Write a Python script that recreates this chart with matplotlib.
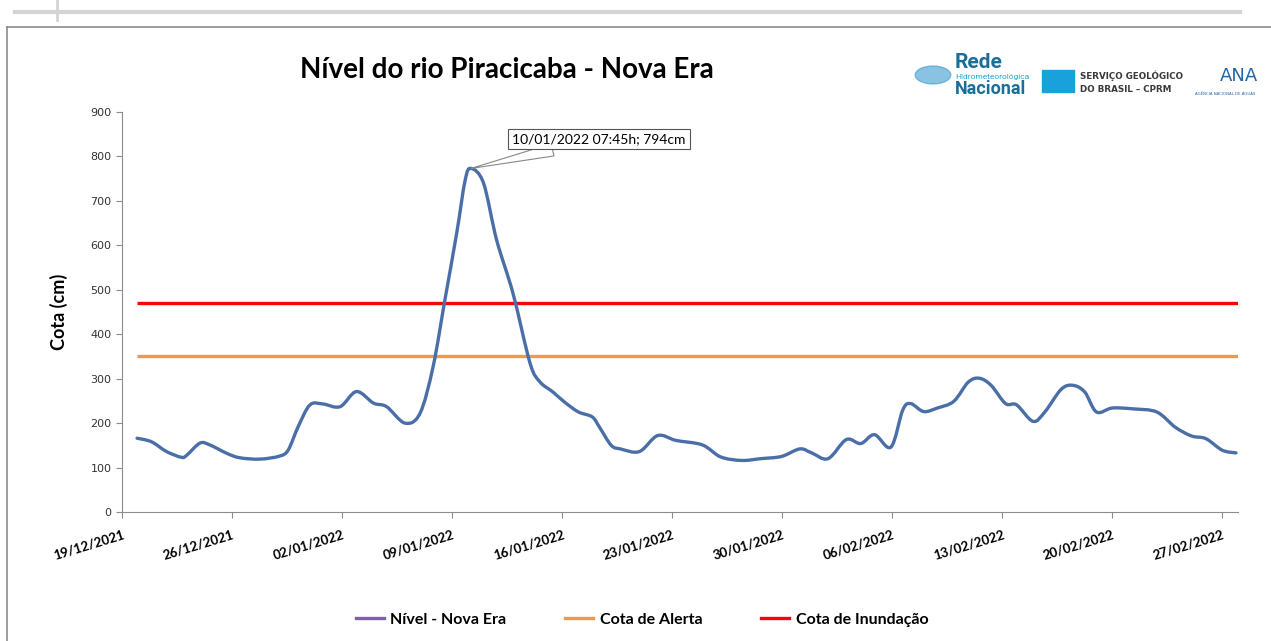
import numpy as np
import pandas as pd
import matplotlib
matplotlib.use("Agg")
import matplotlib.pyplot as plt
import matplotlib.dates as mdates
from matplotlib.lines import Line2D
from matplotlib.path import Path
from matplotlib.patches import PathPatch

# dados
datas = [
    "2021-12-19 23:00", "2021-12-20 21:00", "2021-12-21 20:00", "2021-12-22 19:00",
    "2021-12-23 03:00", "2021-12-23 23:00", "2021-12-24 14:00", "2021-12-25 16:00",
    "2021-12-26 12:00", "2021-12-27 19:00", "2021-12-29 01:00", "2021-12-29 14:00",
    "2021-12-30 05:00", "2021-12-30 23:00", "2021-12-31 19:00", "2022-01-01 21:00",
    "2022-01-02 22:00", "2022-01-04 00:00", "2022-01-04 20:00", "2022-01-06 00:00",
    "2022-01-06 23:00", "2022-01-07 19:00", "2022-01-08 13:00", "2022-01-09 07:00",
    "2022-01-09 20:00", "2022-01-10 05:00", "2022-01-11 00:00", "2022-01-11 20:00",
    "2022-01-12 21:00", "2022-01-13 23:00", "2022-01-14 14:00", "2022-01-15 10:00",
    "2022-01-16 04:00", "2022-01-17 01:00", "2022-01-17 22:00", "2022-01-18 09:00",
    "2022-01-19 03:00", "2022-01-19 17:00", "2022-01-20 22:00", "2022-01-22 02:00",
    "2022-01-23 06:00", "2022-01-24 22:00", "2022-01-26 02:00", "2022-01-27 10:00",
    "2022-01-28 15:00", "2022-01-29 23:00", "2022-01-31 03:00", "2022-01-31 21:00",
    "2022-02-01 22:00", "2022-02-03 02:00", "2022-02-04 00:00", "2022-02-04 21:00",
    "2022-02-05 22:00", "2022-02-06 16:00", "2022-02-07 04:00", "2022-02-08 00:00",
    "2022-02-08 21:00", "2022-02-09 22:00", "2022-02-10 20:00", "2022-02-11 13:00",
    "2022-02-12 07:00", "2022-02-13 05:00", "2022-02-13 22:00", "2022-02-14 23:00",
    "2022-02-15 17:00", "2022-02-16 18:00", "2022-02-17 12:00", "2022-02-18 06:00",
    "2022-02-19 00:00", "2022-02-20 00:00", "2022-02-21 08:00", "2022-02-22 20:00",
    "2022-02-24 00:00", "2022-02-25 01:00", "2022-02-25 23:00", "2022-02-27 00:00",
    "2022-02-27 21:00",
]
nivel = [
    166, 158, 136, 123, 128, 155, 151, 132,
    122, 119, 126, 140, 192, 241, 243, 237,
    271, 245, 237, 200, 222, 327, 477, 627,
    747, 773, 740, 612, 492, 335, 293, 270,
    247, 225, 214, 191, 150, 142, 136, 172,
    161, 151, 124, 116, 120, 125, 142, 133,
    120, 163, 154, 174, 146, 229, 244, 226,
    234, 249, 292, 301, 285, 244, 241, 204,
    225, 276, 285, 270, 225, 234, 232, 225,
    191, 171, 165, 139, 133,
]
cota_alerta = 350
cota_inundacao = 470
x_inicio = "2021-12-19"
x_fim = "2022-02-28"
texto_pico = "10/01/2022 07:45h; 794cm"

t = pd.to_datetime(datas)
nivel = np.array(nivel)

fig = plt.figure(figsize=(12.71, 6.41), dpi=100)
ax = fig.add_axes([122 / 1271, 1 - 512 / 641, (1238 - 122) / 1271, 400 / 641])

# moldura do print
fig.add_artist(Line2D([15 / 1271, 1240 / 1271], [1 - 12 / 641] * 2, color="#d4d4d4", lw=3))
fig.add_artist(Line2D([57 / 1271] * 2, [1, 1 - 20 / 641], color="#d4d4d4", lw=2))
fig.add_artist(Line2D([7 / 1271, 1], [1 - 27 / 641] * 2, color="#8c8c8c", lw=1.2))
fig.add_artist(Line2D([7 / 1271] * 2, [0, 1 - 27 / 641], color="#8c8c8c", lw=1.2))

# linha suavizada (curvas de Bezier pelos pontos, como no Excel)
xs = mdates.date2num(t)
ys = nivel.astype(float)
pts = np.column_stack([xs, ys])
ext = np.vstack([pts[0], pts, pts[-1]])
verts = [tuple(pts[0])]
codes = [Path.MOVETO]
for i in range(len(pts) - 1):
    p0, p1, p2, p3 = ext[i], ext[i + 1], ext[i + 2], ext[i + 3]
    c1 = p1 + (p2 - p0) / 6
    c2 = p2 - (p3 - p1) / 6
    verts += [tuple(c1), tuple(c2), tuple(p2)]
    codes += [Path.CURVE4] * 3
ax.add_patch(PathPatch(Path(verts, codes), fc="none", ec="#4a6ea8", lw=2.4,
                       capstyle="round", joinstyle="round", zorder=3))

ax.hlines(cota_alerta, t[0], pd.Timestamp(x_fim), color="#f79646", lw=2.4, zorder=2)
ax.hlines(cota_inundacao, t[0], pd.Timestamp(x_fim), color="#ff0000", lw=2.4, zorder=2)

ipico = np.argmax(nivel)
ax.annotate(texto_pico, xy=(t[ipico], nivel[ipico]), xytext=(92, 21),
            textcoords="offset points", ha="center", va="center",
            fontsize=10, family="Lato",
            bbox=dict(boxstyle="square,pad=0.3", fc="white", ec="#555555", lw=0.8),
            arrowprops=dict(arrowstyle="wedge,tail_width=0.9", fc="white",
                            ec="#888888", lw=0.8, shrinkA=0, shrinkB=0))

ax.set_xlim(pd.Timestamp(x_inicio), pd.Timestamp(x_fim))
ax.set_ylim(0, 900)
ax.set_yticks(range(0, 901, 100))
ax.set_xticks(pd.date_range(x_inicio, x_fim, freq="7D"))
ax.xaxis.set_major_formatter(mdates.DateFormatter("%d/%m/%Y"))
for lbl in ax.get_xticklabels():
    lbl.set_rotation(17)
    lbl.set_ha("right")
    lbl.set_rotation_mode("anchor")
    lbl.set_fontweight("bold")
    lbl.set_fontsize(9.5)
    lbl.set_family("Lato")
for lbl in ax.get_yticklabels():
    lbl.set_fontsize(8)
    lbl.set_color("#333333")

ax.spines["top"].set_visible(False)
ax.spines["right"].set_visible(False)
ax.spines["left"].set_color("#8c8c8c")
ax.spines["bottom"].set_color("#8c8c8c")
ax.tick_params(axis="both", color="#8c8c8c", length=4)
ax.tick_params(axis="x", pad=8)
ax.set_ylabel("Cota (cm)", fontsize=13, fontweight="bold", family="Lato", labelpad=16)

fig.text(507 / 1271, 1 - 70 / 641, "Nível do rio Piracicaba - Nova Era",
         ha="center", va="center", fontsize=20, fontweight="bold", family="Lato")

# logos (aproximados com texto)
fig.text(955 / 1271, 1 - 62 / 641, "Rede", color="#1a6f99", fontsize=15,
         fontweight="bold", family="Roboto", va="center")
fig.text(955 / 1271, 1 - 77 / 641, "Hidrometeorológica", color="#2aa3d6",
         fontsize=6, family="Roboto", va="center")
fig.text(955 / 1271, 1 - 89 / 641, "Nacional", color="#1a6f99", fontsize=13,
         fontweight="bold", family="Roboto", va="center")
fig.add_artist(plt.Circle((933 / 1271, 1 - 75 / 641), 0.014, transform=fig.transFigure,
                          color="#3c9ccf", alpha=0.6))
fig.add_artist(plt.Rectangle((1042 / 1271, 1 - 92 / 641), 32 / 1271, 22 / 641,
                             transform=fig.transFigure, color="#19a1dc"))
fig.text(1080 / 1271, 1 - 76 / 641, "SERVIÇO GEOLÓGICO", fontsize=6.3,
         fontweight="bold", color="#3a3a3a", va="center")
fig.text(1080 / 1271, 1 - 89 / 641, "DO BRASIL – CPRM", fontsize=6.3,
         fontweight="bold", color="#3a3a3a", va="center")
fig.text(1220 / 1271, 1 - 76 / 641, "ANA", fontsize=13, color="#2067a8", va="center")
fig.text(1225 / 1271, 1 - 94 / 641, "AGÊNCIA NACIONAL DE ÁGUAS", fontsize=2.8,
         color="#2067a8", va="center", ha="center")

handles = [Line2D([], [], color="#7f60a8", lw=2.4),
           Line2D([], [], color="#f79646", lw=2.4),
           Line2D([], [], color="#ff0000", lw=2.4)]
fig.legend(handles, ["Nível - Nova Era", "Cota de Alerta", "Cota de Inundação"],
           loc="center", bbox_to_anchor=(642 / 1271, 1 - 620 / 641), ncol=3,
           frameon=False, handlelength=1.75, columnspacing=3.7, handletextpad=0.4,
           prop=dict(family="Lato", weight="bold", size=11.5))

fig.savefig("out.png", dpi=100)
